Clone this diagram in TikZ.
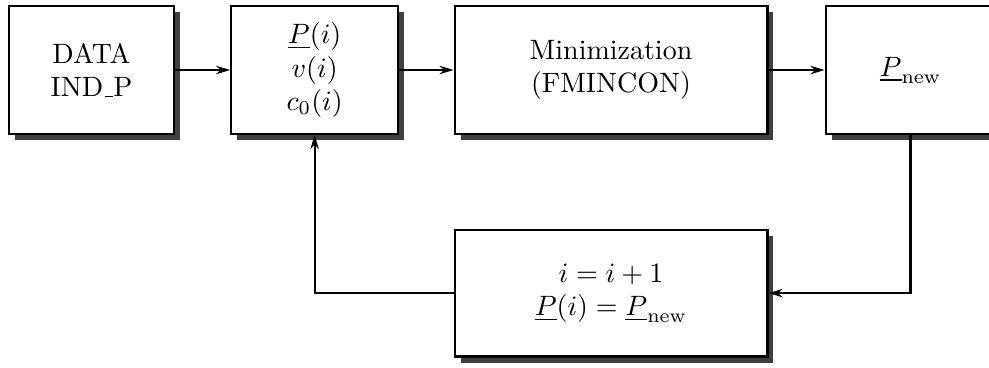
\documentclass[tikz,border=0pt]{standalone}
\usepackage{amsmath,amssymb}
\usepackage{tikz}
\usetikzlibrary{arrows.meta,positioning,shadows}

\begin{document}
\begin{tikzpicture}[node distance=2.8cm,
		box/.style={draw, thick, fill=white, align=center,
			drop shadow={opacity=1, fill=black!75},
			minimum height=45.6pt, inner sep=2pt},
		>={Stealth[length=5pt, width=3pt]}]
			\useasboundingbox (-32.7pt,-106.1pt) rectangle (320.5pt,25pt);
			\clip (-32.7pt,-106.1pt) rectangle (320.5pt,25pt);

			\node[box, minimum width=58.8pt] (Data) {DATA\\IND\kern.06em\vbox{\hrule width.3em}P};
			\node[box, minimum width=59.6pt, right of=Data] (Var) {$\underline{P}(i)$\\$v(i)$\\$c_0(i)$};
			\node[box, minimum width=111.7pt, node distance=3.72cm, right of=Var] (Min) {Minimization\\(FMINCON)};
			\node[box, minimum width=60.6pt, node distance=3.76cm, right of=Min] (New) {$\underline{P}_{\mathrm{new}}$};
			\node[box, minimum width=111.7pt, minimum height=45.3pt, below of=Min] (Upd) {$i=i+1$\\$\underline{P}(i)=\underline{P}_{\mathrm{new}}$};

			\draw[->, thick] (Data) -- (Var);
			\draw[->, thick] (Var) -- (Min);
			\draw[->, thick] (Min) -- (New);
			\draw[->, thick] (New.south) |- (Upd.east);
			\draw[->, thick] (Upd.west) -| (Var.south);
		\end{tikzpicture}
\end{document}
